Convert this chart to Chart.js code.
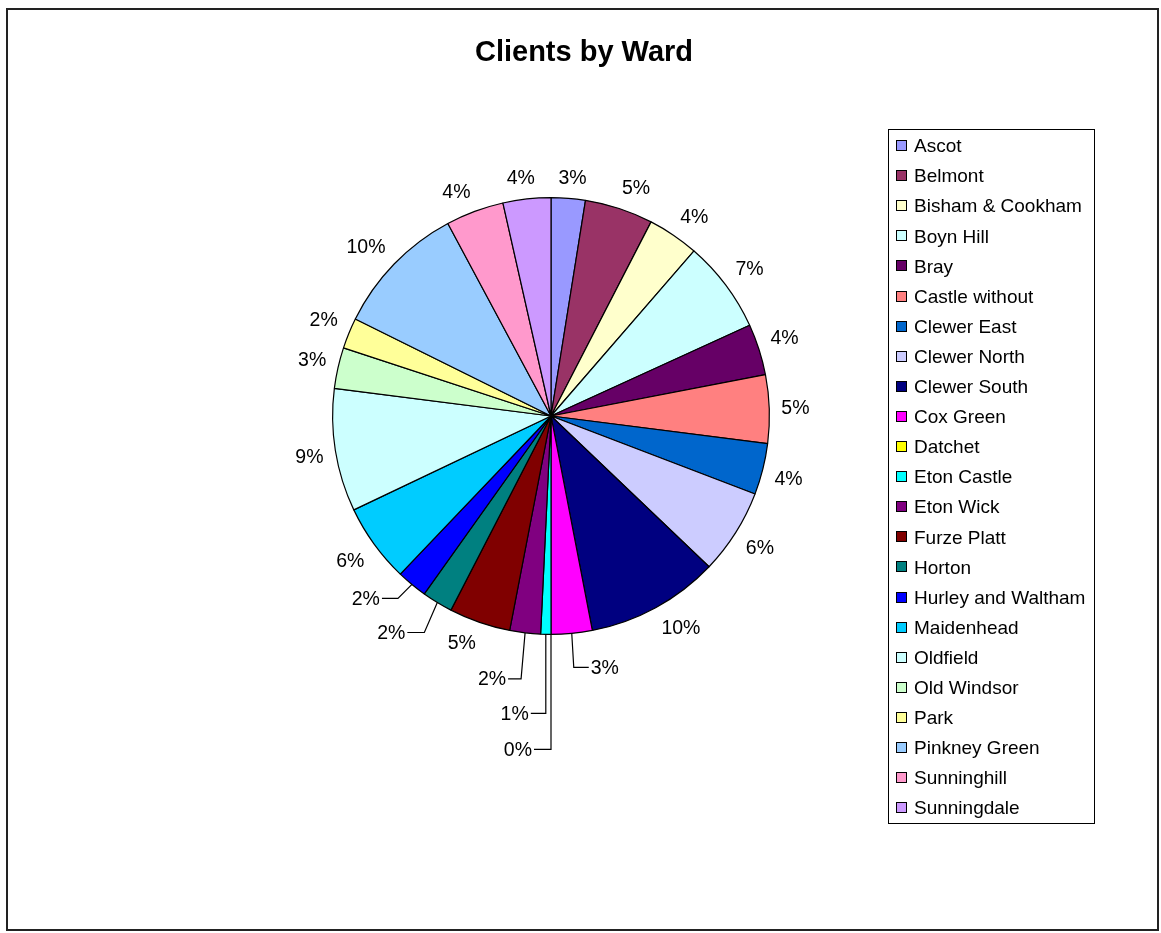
<!DOCTYPE html>
<html>
<head>
<meta charset="utf-8">
<script src="https://cdn.jsdelivr.net/npm/chart.js@4.4.0/dist/chart.umd.min.js"></script>
<style>
  body { margin: 0; background: #fff; }
  #wrap { width: 1161px; height: 933px; }
</style>
</head>
<body>
<div id="wrap"><canvas id="wardChart" width="1161" height="933"></canvas></div>
<script>
// data (client counts per ward)
const wards = ['Ascot', 'Belmont', 'Bisham & Cookham', 'Boyn Hill', 'Bray', 'Castle without',
    'Clewer East', 'Clewer North', 'Clewer South', 'Cox Green', 'Datchet', 'Eton Castle',
    'Eton Wick', 'Furze Platt', 'Horton', 'Hurley and Waltham', 'Maidenhead', 'Oldfield',
    'Old Windsor', 'Park', 'Pinkney Green', 'Sunninghill', 'Sunningdale'];
const clients = [10, 20, 15, 27, 15, 20, 15, 25, 39, 12, 0, 3, 9, 18, 9, 9, 23, 36, 12, 9, 39, 17, 14];
const wardColours = ['#9999FF', '#993366', '#FFFFCC', '#CCFFFF', '#660066', '#FF8080',
    '#0066CC', '#CCCCFF', '#000080', '#FF00FF', '#FFFF00', '#00FFFF',
    '#800080', '#800000', '#008080', '#0000FF', '#00CCFF', '#CCFFFF',
    '#CCFFCC', '#FFFF99', '#99CCFF', '#FF99CC', '#CC99FF'];

const FONT = '"Liberation Sans", Arial, sans-serif';

// labels that were dragged away from the pie and got a leader line
// dx/dy = elbow offset from the arc point, run = horizontal part
const leaders = {
    9:  { dx: 2,   dy: 34,  run: 15 },
    10: { dx: 0,   dy: 115, run: -17 },
    11: { dx: 0,   dy: 79,  run: -15 },
    12: { dx: -4,  dy: 46,  run: -13 },
    14: { dx: -13, dy: 30,  run: -17 },
    15: { dx: -14, dy: 14,  run: -16 }
};

const total = clients.reduce((a, b) => a + b, 0);
const clamp = v => Math.max(-1, Math.min(1, v));

const pieLabels = {
    id: 'pieLabels',
    afterDatasetsDraw(chart) {
        const ctx = chart.ctx;
        const arcs = chart.getDatasetMeta(0).data;
        ctx.save();
        ctx.font = '19.5px ' + FONT;
        ctx.fillStyle = '#000';
        ctx.strokeStyle = '#000';
        ctx.lineWidth = 1.2;
        ctx.textBaseline = 'middle';
        arcs.forEach((arc, i) => {
            const p = arc.getProps(['x', 'y', 'startAngle', 'endAngle', 'outerRadius'], true);
            const mid = (p.startAngle + p.endAngle) / 2;
            const cos = Math.cos(mid), sin = Math.sin(mid);
            const txt = Math.round(clients[i] / total * 100) + '%';
            const w = ctx.measureText(txt).width, h = 18;
            const lead = leaders[i];
            if (lead) {
                const sx = p.x + cos * p.outerRadius, sy = p.y + sin * p.outerRadius;
                const ex = sx + lead.dx, ey = sy + lead.dy;
                ctx.beginPath();
                ctx.moveTo(sx, sy);
                ctx.lineTo(ex, ey);
                ctx.lineTo(ex + lead.run, ey);
                ctx.stroke();
                ctx.textAlign = lead.run > 0 ? 'left' : 'right';
                ctx.fillText(txt, ex + lead.run + (lead.run > 0 ? 2 : -2), ey + 1);
            } else {
                const d = 12;
                const lx = p.x + cos * (p.outerRadius + d) + clamp(cos * 3) * w / 2;
                const ly = p.y + sin * (p.outerRadius + d) + clamp(sin * 3) * h / 2;
                ctx.textAlign = 'center';
                ctx.fillText(txt, lx, ly + 1);
            }
        });
        ctx.restore();
    }
};

const frame = {
    id: 'frame',
    beforeDraw(chart) {
        const ctx = chart.ctx;
        ctx.save();
        ctx.fillStyle = '#fff';
        ctx.fillRect(0, 0, chart.width, chart.height);
        ctx.restore();
    },
    afterDraw(chart) {
        const ctx = chart.ctx;
        ctx.save();
        // outer border
        ctx.strokeStyle = '#222';
        ctx.lineWidth = 2;
        ctx.strokeRect(7, 9, 1151, 921);
        // title
        ctx.fillStyle = '#000';
        ctx.font = 'bold 29px ' + FONT;
        ctx.textAlign = 'center';
        ctx.textBaseline = 'middle';
        ctx.fillText('Clients by Ward', 584, 53);
        // legend
        ctx.lineWidth = 1;
        ctx.strokeStyle = '#000';
        ctx.strokeRect(888.5, 129.5, 206, 694);
        ctx.font = '19px ' + FONT;
        ctx.textAlign = 'left';
        wards.forEach((name, i) => {
            const y = 146 + i * 30.1;
            ctx.fillStyle = wardColours[i];
            ctx.fillRect(897, Math.round(y) - 5, 9, 9);
            ctx.strokeRect(896.5, Math.round(y) - 5.5, 10, 10);
            ctx.fillStyle = '#000';
            ctx.fillText(name, 914, y + 1);
        });
        ctx.restore();
    }
};

new Chart(document.getElementById('wardChart'), {
    type: 'pie',
    data: {
        labels: wards,
        datasets: [{
            data: clients,
            backgroundColor: wardColours,
            borderColor: '#000',
            borderWidth: 1.2
        }]
    },
    options: {
        responsive: false,
        animation: false,
        layout: { padding: { left: 332, right: 391, top: 197, bottom: 298 } },
        plugins: {
            legend: { display: false },
            title: { display: false },
            tooltip: { enabled: false }
        }
    },
    plugins: [frame, pieLabels]
});
</script>
</body>
</html>
